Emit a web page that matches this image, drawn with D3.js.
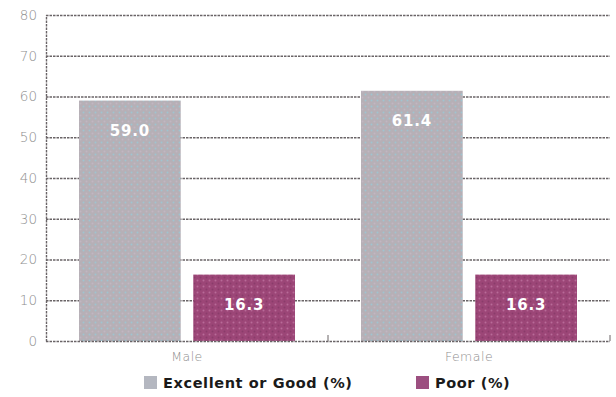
<!DOCTYPE html>
<html>
<head>
<meta charset="utf-8">
<script src="https://cdn.jsdelivr.net/npm/d3@7"></script>
<style>
  html, body { margin: 0; padding: 0; background: #fff; }
  svg { display: block; }
</style>
</head>
<body>
<svg id="chart" width="616" height="397"></svg>
<script>
// Self-rated health by sex
const categories = ["Male", "Female"];
const seriesNames = ["Excellent or Good (%)", "Poor (%)"];
const excellentOrGood = [59.0, 61.4];
const poor = [16.3, 16.3];
const yTicks = [0, 10, 20, 30, 40, 50, 60, 70, 80];

const svg = d3.select("#chart");
const margin = { left: 46, right: 6, top: 15, bottom: 56 };
const W = 616, H = 397;
const innerW = W - margin.left - margin.right;
const innerH = H - margin.top - margin.bottom;

// Halftone-style fills for the two series
const defs = svg.append("defs");
function dotPattern(id, base, dot, dot2) {
  const p = defs.append("pattern").attr("id", id)
    .attr("width", 6).attr("height", 6).attr("patternUnits", "userSpaceOnUse");
  p.append("rect").attr("width", 6).attr("height", 6).attr("fill", base);
  p.append("circle").attr("cx", 1.5).attr("cy", 1.5).attr("r", 1).attr("fill", dot);
  p.append("circle").attr("cx", 4.5).attr("cy", 4.5).attr("r", 1).attr("fill", dot2);
}
dotPattern("fillGood", "#b6b0b6", "#9fc4d0", "#c2b6c2");
dotPattern("fillPoor", "#9c4677", "#b86a98", "#8a3c6a");
const fills = ["url(#fillGood)", "url(#fillPoor)"];
const swatch = ["#b4b7c0", "#9c4f80"];

const gridColor = "#6a6467";
const g = svg.append("g").attr("transform", `translate(${margin.left},${margin.top})`);

const y = d3.scaleLinear().domain([0, 80]).range([innerH, 0]);
const x0 = d3.scaleBand().domain(categories).range([0, innerW]).paddingInner(0).paddingOuter(0);
const x1 = d3.scaleBand().domain(seriesNames).range([33, x0.bandwidth() - 33]).paddingInner(0.11);

// Gridlines
g.append("g").selectAll("line").data(yTicks.filter(t => t > 0)).join("line")
  .attr("x1", 0).attr("x2", innerW)
  .attr("y1", d => y(d) + 0.5).attr("y2", d => y(d) + 0.5)
  .attr("stroke", gridColor).attr("stroke-width", 1.4).attr("stroke-dasharray", "2.5,1");

// Y axis
const yAxis = g.append("g").call(d3.axisLeft(y).tickValues(yTicks).tickSize(0).tickPadding(9));
yAxis.select(".domain").attr("stroke", gridColor).attr("stroke-width", 1.4).attr("stroke-dasharray", "2.5,1");
yAxis.selectAll("text").attr("fill", "#8e8e8e").attr("font-family", "DejaVu Sans, sans-serif")
  .attr("font-size", 13.5).attr("font-weight", 300);

// Bars
const data = categories.map((c, i) => ({ cat: c, vals: [excellentOrGood[i], poor[i]] }));
const groups = g.append("g").selectAll("g").data(data).join("g")
  .attr("transform", d => `translate(${x0(d.cat)},0)`);
groups.selectAll("rect").data(d => d.vals.map((v, j) => ({ v, s: seriesNames[j], j }))).join("rect")
  .attr("x", d => x1(d.s)).attr("width", x1.bandwidth())
  .attr("y", d => y(d.v)).attr("height", d => innerH - y(d.v))
  .attr("fill", d => fills[d.j]);
groups.selectAll("text.val").data(d => d.vals.map((v, j) => ({ v, s: seriesNames[j], j }))).join("text")
  .attr("class", "val")
  .attr("x", d => x1(d.s) + x1.bandwidth() / 2)
  .attr("y", d => y(d.v) + 35)
  .attr("text-anchor", "middle")
  .attr("fill", "#fff").attr("font-family", "DejaVu Sans, sans-serif")
  .attr("font-size", 15).attr("font-weight", 600).attr("letter-spacing", 0.8)
  .text(d => d3.format(".1f")(d.v));

// X axis baseline with ticks at band edges
const xAxis = g.append("g").attr("transform", `translate(0,${innerH})`);
xAxis.append("line").attr("x1", 0).attr("x2", innerW).attr("y1", 0.5).attr("y2", 0.5)
  .attr("stroke", gridColor).attr("stroke-width", 1.4).attr("stroke-dasharray", "2.5,1");
const edges = categories.map(c => x0(c) + x0.bandwidth()).filter(v => v > 0);
xAxis.selectAll("line.tick").data(edges).join("line").attr("class", "tick")
  .attr("x1", d => d).attr("x2", d => d).attr("y1", -6).attr("y2", 0)
  .attr("stroke", gridColor);
xAxis.selectAll("text").data(categories).join("text")
  .attr("x", d => x0(d) + x0.bandwidth() / 2).attr("y", 20)
  .attr("text-anchor", "middle").attr("fill", "#8e8e8e")
  .attr("font-family", "DejaVu Sans, sans-serif").attr("font-size", 12.5).attr("font-weight", 300)
  .attr("letter-spacing", 0.5)
  .text(d => d);

// Legend
const legendX = [144, 416];
const legend = svg.append("g").selectAll("g").data(seriesNames).join("g")
  .attr("transform", (d, i) => `translate(${legendX[i]},376)`);
legend.append("rect").attr("width", 13).attr("height", 13).attr("fill", (d, i) => swatch[i]);
legend.append("text").attr("x", 19).attr("y", 12)
  .attr("fill", "#1a1a1a").attr("font-family", "DejaVu Sans, sans-serif")
  .attr("font-size", 14.5).attr("font-weight", "bold").attr("letter-spacing", 0.6)
  .text(d => d);
</script>
</body>
</html>
